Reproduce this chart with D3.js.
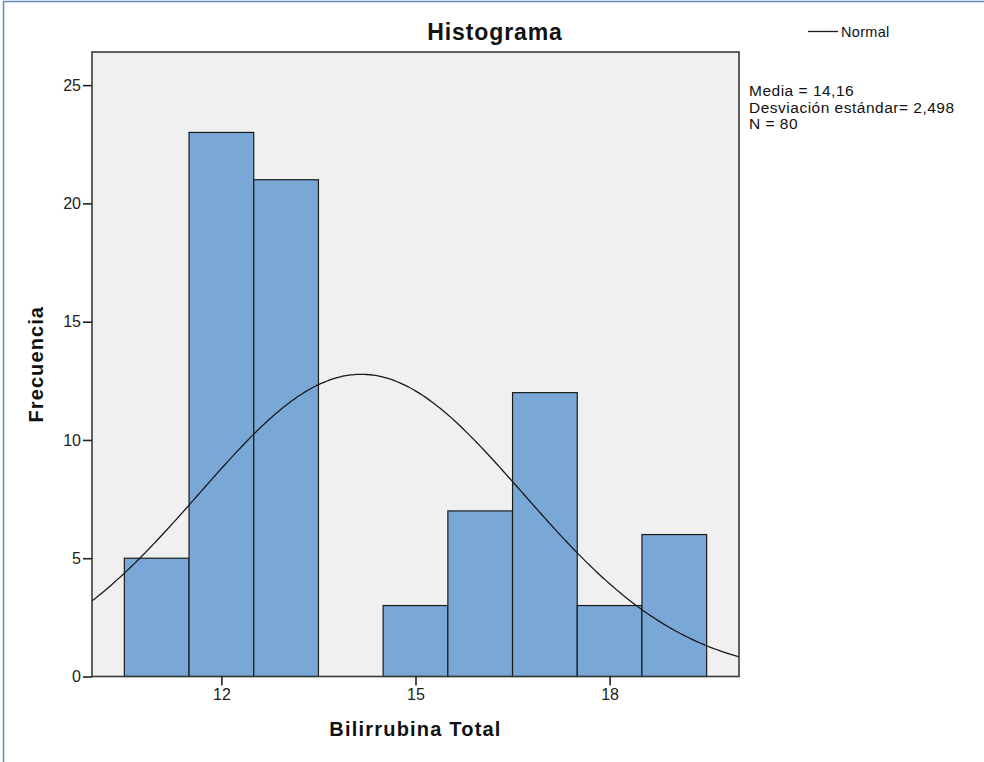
<!DOCTYPE html>
<html>
<head>
<meta charset="utf-8">
<script src="https://cdn.jsdelivr.net/npm/d3@7"></script>
<style>
  html, body { margin: 0; padding: 0; background: #fff; }
  svg { display: block; font-family: "Liberation Sans", Arial, sans-serif; }
</style>
</head>
<body>
<svg id="chart" width="984" height="762"></svg>
<script>
// ---- data ----
const binCenters = [11, 12, 13, 14, 15, 16, 17, 18, 19];
const frequencies = [5, 23, 21, 0, 3, 7, 12, 3, 6];
const binWidth = 1;
const xTicks = [12, 15, 18];
const yTicks = [0, 5, 10, 15, 20, 25];
const mean = 14.16;
const sd = 2.498;
const nObs = 80;
const statLines = ["Media = 14,16", "Desviación estándar= 2,498", "N = 80"];

// ---- layout ----
const svg = d3.select("#chart");
const pLeft = 92, pRight = 739, pTop = 52, pBottom = 676.5;
const x = d3.scaleLinear().domain([10, 20]).range([pLeft, pRight]);
const y = d3.scaleLinear().domain([0, 26.4]).range([pBottom, pTop]);

// outer blue frame (left + top)
svg.append("line").attr("x1", 3.5).attr("x2", 3.5).attr("y1", 1).attr("y2", 762)
  .attr("stroke", "#5b8cc8").attr("stroke-width", 1.5);
svg.append("line").attr("x1", 3).attr("x2", 984).attr("y1", 1.5).attr("y2", 1.5)
  .attr("stroke", "#5b8cc8").attr("stroke-width", 1.5);

// plot background
svg.append("rect").attr("x", pLeft).attr("y", pTop)
  .attr("width", pRight - pLeft).attr("height", pBottom - pTop)
  .attr("fill", "#f0f0f0");

// clip for curve
svg.append("clipPath").attr("id", "clip").append("rect")
  .attr("x", pLeft).attr("y", pTop).attr("width", pRight - pLeft).attr("height", pBottom - pTop);

// bars
const bars = binCenters.map((c, i) => ({ c, f: frequencies[i] })).filter(d => d.f > 0);
svg.append("g").selectAll("rect").data(bars).join("rect")
  .attr("x", d => x(d.c - binWidth / 2))
  .attr("width", d => x(d.c + binWidth / 2) - x(d.c - binWidth / 2))
  .attr("y", d => y(d.f))
  .attr("height", d => y(0) - y(d.f))
  .attr("fill", "#7aa8d6")
  .attr("stroke", "#1a1a1a")
  .attr("stroke-width", 1.2);

// normal curve (from stated mean / sd / N)
const pts = d3.range(10, 20.0001, 0.05).map(v => {
  const z = (v - mean) / sd;
  return [v, nObs * binWidth * Math.exp(-0.5 * z * z) / (sd * Math.sqrt(2 * Math.PI))];
});
svg.append("path").datum(pts)
  .attr("clip-path", "url(#clip)")
  .attr("fill", "none").attr("stroke", "#1a1a1a").attr("stroke-width", 1.3)
  .attr("d", d3.line().x(d => x(d[0])).y(d => y(d[1])).curve(d3.curveBasis));

// frame
svg.append("rect").attr("x", pLeft).attr("y", pTop)
  .attr("width", pRight - pLeft).attr("height", pBottom - pTop)
  .attr("fill", "none").attr("stroke", "#3a3a3a").attr("stroke-width", 1.6);

// axes
const yAxis = svg.append("g").attr("transform", `translate(${pLeft},0)`)
  .call(d3.axisLeft(y).tickValues(yTicks).tickSize(9).tickPadding(2).tickFormat(d3.format("d")));
const xAxis = svg.append("g").attr("transform", `translate(0,${pBottom})`)
  .call(d3.axisBottom(x).tickValues(xTicks).tickSize(9).tickPadding(3).tickFormat(d3.format("d")));
[yAxis, xAxis].forEach(g => {
  g.select(".domain").remove();
  g.selectAll(".tick line").attr("stroke", "#222").attr("stroke-width", 1.6);
  g.selectAll(".tick text").attr("fill", "#222").style("font-size", "16px")
    .style("font-family", "'Liberation Sans', Arial, sans-serif");
});

// title
svg.append("text").attr("x", 495).attr("y", 40).attr("text-anchor", "middle")
  .style("font-size", "23px").style("font-weight", "bold").style("letter-spacing", "0.9px")
  .attr("fill", "#111").text("Histograma");

// axis titles
svg.append("text").attr("x", (pLeft + pRight) / 2).attr("y", 736).attr("text-anchor", "middle")
  .style("font-size", "20px").style("font-weight", "bold").style("letter-spacing", "1.2px")
  .attr("fill", "#111").text("Bilirrubina Total");
svg.append("text").attr("transform", `translate(43,${(pTop + pBottom) / 2}) rotate(-90)`)
  .attr("text-anchor", "middle")
  .style("font-size", "20px").style("font-weight", "bold").style("letter-spacing", "1.1px")
  .attr("fill", "#111").text("Frecuencia");

// legend
svg.append("line").attr("x1", 808).attr("x2", 838).attr("y1", 31.5).attr("y2", 31.5)
  .attr("stroke", "#1a1a1a").attr("stroke-width", 1.3);
svg.append("text").attr("x", 841).attr("y", 36.5)
  .style("font-size", "14.5px").style("letter-spacing", "0.3px").attr("fill", "#111").text("Normal");

// stats
svg.append("g").selectAll("text").data(statLines).join("text")
  .attr("x", 749).attr("y", (d, i) => 96 + i * 16.5)
  .style("font-size", "15.5px").style("letter-spacing", "0.5px").attr("fill", "#111")
  .text(d => d);
</script>
</body>
</html>
